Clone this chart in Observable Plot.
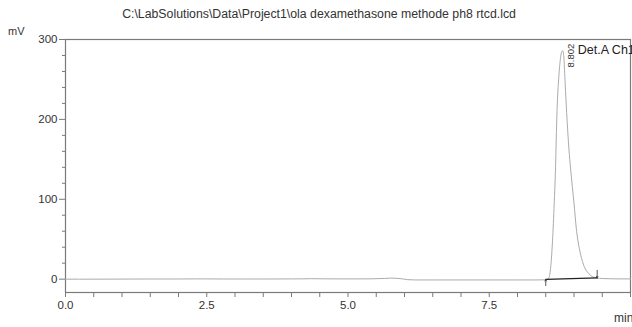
<!DOCTYPE html>
<html>
<head>
<meta charset="utf-8">
<script src="https://cdn.jsdelivr.net/npm/d3@7"></script>
<script src="https://cdn.jsdelivr.net/npm/@observablehq/plot@0.6"></script>
<style>
  html, body { margin: 0; padding: 0; background: #fff; }
  body { width: 632px; height: 327px; overflow: hidden; position: relative; font-family: "Liberation Sans", Arial, sans-serif; }
  #chart { position: absolute; left: 0; top: 0; width: 700px; }
  #chart svg { max-width: none !important; height: 327px !important; }
  .lbl { position: absolute; color: #333; white-space: nowrap; font-family: "Liberation Sans", Arial, sans-serif; }
</style>
</head>
<body>
<div id="chart"></div>
<div class="lbl" id="title" style="left:0; width:638px; top:7px; text-align:center; font-size:12.3px;"></div>
<div class="lbl" id="ylab" style="left:8px; top:25px; font-size:11px;"></div>
<div class="lbl" id="xlab" style="left:614px; top:311px; font-size:12px;"></div>
<script>
// ---- text ----
const titleText = "C:\\LabSolutions\\Data\\Project1\\ola dexamethasone methode ph8 rtcd.lcd";
const yUnit = "mV";
const xUnit = "min";
const channelLabel = "Det.A Ch1";
const peakLabel = "8.802";

// ---- chromatogram baseline (min, mV) ----
const baseTime = [0.0, 0.5, 1.0, 1.5, 2.0, 2.3, 2.5, 2.8, 3.2, 3.6, 4.0, 4.2, 4.35, 4.6, 5.0, 5.4, 5.65, 5.75, 5.85, 5.95, 6.05, 6.2, 6.5, 7.0, 7.5, 8.0, 8.3, 8.5];
const baseMv   = [0.0, 0.0, 0.1, 0.2, 0.2, 0.35, 0.3, 0.2, 0.2, 0.2, 0.3, 0.4, 0.6, 0.4, 0.3, 0.4, 0.9, 1.3, 1.1, 0.5, -0.6, -1.0, -1.0, -1.0, -1.0, -1.0, -1.0, -0.8];

// ---- main peak (min, mV) ----
const peakTime = [8.55, 8.58, 8.62, 8.65, 8.67, 8.70, 8.73, 8.76, 8.785, 8.802, 8.82, 8.84, 8.86, 8.88, 8.91, 8.94, 8.97, 9.0, 9.04, 9.07, 9.12, 9.18, 9.26, 9.33, 9.4, 9.5, 9.7, 10.0];
const peakMv   = [1, 10, 48, 95, 132, 212, 252, 276, 285, 286, 278, 250, 222, 196, 163, 138, 116, 95, 64, 48, 30, 16, 7, 3, 1.5, 0.8, 0.4, 0.3];

// ---- integration baseline and markers ----
const intTime = [8.5, 9.41];
const intMv = [-0.2, 1.5];
const markerTime = [8.5, 9.41];
const markerFrom = [-8, 11];
const markerTo = [-0.2, 1.5];

// ---- axes ----
const xMajor = [0, 2.5, 5, 7.5];
const xMinor = [0.5, 1, 1.5, 2, 3, 3.5, 4, 4.5, 5.5, 6, 6.5, 7, 8, 8.5, 9, 9.5, 10];
const yMajor = [0, 100, 200, 300];
const yMinor = [20, 40, 60, 80, 120, 140, 160, 180, 220, 240, 260, 280];

const signal = baseTime.map((t, i) => ({t, v: baseMv[i]}))
  .concat(peakTime.map((t, i) => ({t, v: peakMv[i]})));
const integ = intTime.map((t, i) => ({t, v: intMv[i]}));
const markers = markerTime.map((t, i) => ({t, y1: markerFrom[i], y2: markerTo[i]}));

const axisColor = "#7a7a7a";
const W = 690;

const chart = Plot.plot({
  width: W,
  height: 327,
  marginTop: 39,
  marginBottom: 35,
  marginLeft: 65,
  marginRight: W - 630,
  style: {fontFamily: "Liberation Sans, Arial, sans-serif", fontSize: "11px", color: "#333", background: "#fff"},
  x: {domain: [0, 10]},
  y: {domain: [-16.7, 300]},
  marks: [
    Plot.frame({stroke: axisColor, strokeWidth: 1.2}),
    Plot.axisX({ticks: xMajor, tickFormat: d3.format(".1f"), tickSize: 5, tickPadding: 3, stroke: axisColor, fill: "#333", fontSize: 11.5, label: null}),
    Plot.axisX({ticks: xMinor, tickFormat: () => "", tickSize: 5, stroke: axisColor, label: null}),
    Plot.axisY({ticks: yMajor, tickSize: 6, tickPadding: 2, stroke: axisColor, fill: "#333", fontSize: 11.5, label: null}),
    Plot.axisY({ticks: yMinor, tickFormat: () => "", tickSize: 3, stroke: axisColor, label: null}),
    Plot.line(signal, {x: "t", y: "v", stroke: "#ababab", strokeWidth: 1, curve: "monotone-x"}),
    Plot.line(integ, {x: "t", y: "v", stroke: "#222", strokeWidth: 1.2}),
    Plot.arrow(markers, {x1: "t", y1: "y1", x2: "t", y2: "y2", stroke: "#444", strokeWidth: 0.9, headLength: 3, headAngle: 50}),
    Plot.text([peakLabel], {x: 8.802, y: 265, text: d => d, rotate: -90, textAnchor: "start", dx: 8, fontSize: 9.5, fill: "#333"}),
    Plot.text([channelLabel], {x: 8.802, y: 300, text: d => d, textAnchor: "start", dx: 15, dy: 10, fontSize: 12.5, fill: "#222"})
  ]
});
document.getElementById("chart").appendChild(chart);
document.getElementById("title").textContent = titleText;
document.getElementById("ylab").textContent = yUnit;
document.getElementById("xlab").textContent = xUnit;
</script>
</body>
</html>
